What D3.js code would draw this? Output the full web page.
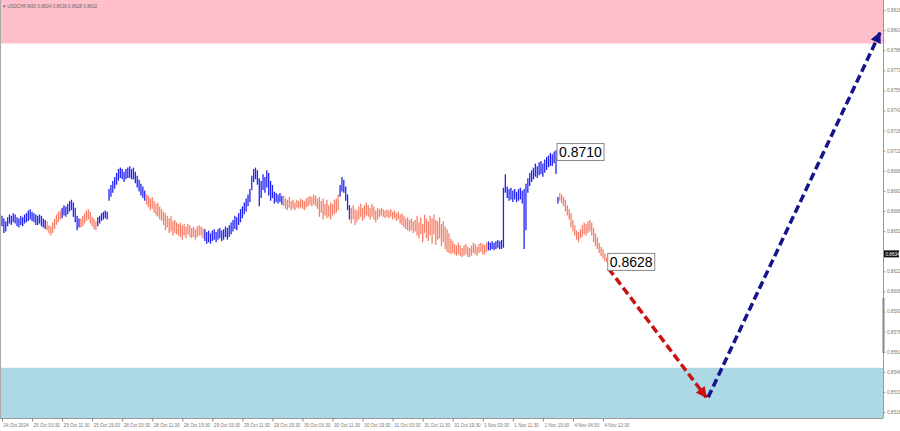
<!DOCTYPE html>
<html><head><meta charset="utf-8">
<script src="https://cdn.jsdelivr.net/npm/d3@7"></script>
<style>html,body{margin:0;padding:0;background:#fff;overflow:hidden}</style>
</head><body>
<svg id="c" width="900" height="431"></svg>
<script>
const symbolTitle = "USDCHF,M30  0.8634 0.8636 0.8628 0.8632";

const highs = [
0.8662,0.8660,0.8658,0.8661,0.8663,0.8662,0.8664,0.8663,0.8661,0.8660,
0.8662,0.8661,0.8663,0.8664,0.8666,0.8667,0.8665,0.8664,0.8663,0.8662,
0.8663,0.8662,0.8660,0.8659,0.8658,0.8655,0.8654,0.8657,0.8660,0.8663,
0.8665,0.8666,0.8668,0.8670,0.8669,0.8671,0.8673,0.8674,0.8672,0.8668,
0.8662,0.8660,0.8660,0.8662,0.8664,0.8666,0.8667,0.8665,0.8661,0.8660,
0.8658,0.8661,0.8662,0.8664,0.8665,0.8666,0.8665,0.8682,0.8685,0.8688,
0.8691,0.8694,0.8697,0.8698,0.8697,0.8695,0.8697,0.8698,0.8699,0.8697,
0.8698,0.8695,0.8692,0.8689,0.8686,0.8684,0.8681,0.8678,0.8677,0.8675,
0.8676,0.8673,0.8671,0.8672,0.8669,0.8667,0.8665,0.8664,0.8662,0.8660,
0.8662,0.8658,0.8659,0.8657,0.8656,0.8657,0.8655,0.8656,0.8654,0.8656,
0.8655,0.8653,0.8654,0.8652,0.8654,0.8655,0.8654,0.8653,0.8652,0.8650,
0.8651,0.8649,0.8651,0.8652,0.8650,0.8652,0.8653,0.8651,0.8652,0.8654,
0.8653,0.8655,0.8657,0.8659,0.8662,0.8661,0.8664,0.8667,0.8669,0.8672,
0.8675,0.8678,0.8682,0.8692,0.8697,0.8698,0.8696,0.8690,0.8688,0.8693,
0.8691,0.8696,0.8694,0.8688,0.8685,0.8680,0.8679,0.8678,0.8679,0.8677,
0.8677,0.8675,0.8674,0.8676,0.8673,0.8674,0.8672,0.8674,0.8673,0.8675,
0.8674,0.8673,0.8675,0.8676,0.8677,0.8676,0.8678,0.8677,0.8675,0.8676,
0.8673,0.8675,0.8671,0.8674,0.8670,0.8672,0.8671,0.8674,0.8675,0.8678,
0.8685,0.8691,0.8689,0.8684,0.8678,0.8670,0.8668,0.8670,0.8667,0.8666,
0.8669,0.8671,0.8668,0.8670,0.8672,0.8670,0.8668,0.8671,0.8669,0.8666,
0.8668,0.8667,0.8668,0.8667,0.8666,0.8667,0.8666,0.8667,0.8665,0.8666,
0.8664,0.8665,0.8663,0.8664,0.8662,0.8660,0.8661,0.8659,0.8660,0.8658,
0.8659,0.8662,0.8657,0.8661,0.8656,0.8663,0.8660,0.8658,0.8662,0.8660,
0.8663,0.8659,0.8658,0.8661,0.8656,0.8658,0.8654,0.8652,0.8649,0.8645,
0.8643,0.8641,0.8640,0.8642,0.8640,0.8638,0.8640,0.8641,0.8639,0.8638,
0.8640,0.8642,0.8641,0.8639,0.8641,0.8642,0.8641,0.8640,0.8642,0.8643,
0.8642,0.8643,0.8642,0.8643,0.8644,0.8643,0.8644,0.8683,0.8693,0.8684,
0.8682,0.8683,0.8681,0.8682,0.8680,0.8682,0.8683,0.8681,0.8682,0.8686,
0.8690,0.8694,0.8696,0.8698,0.8701,0.8699,0.8702,0.8703,0.8701,0.8704,
0.8706,0.8707,0.8709,0.8708,0.8710,0.8711,0.8676,0.8679,0.8678,0.8676,
0.8674,0.8670,0.8667,0.8664,0.8659,0.8655,0.8651,0.8650,0.8652,0.8655,
0.8657,0.8656,0.8658,0.8659,0.8657,0.8653,0.8649,0.8646,0.8642,0.8639,
0.8637,0.8634,0.8631
];
const lows = [
0.8655,0.8650,0.8651,0.8655,0.8657,0.8656,0.8658,0.8657,0.8655,0.8654,
0.8656,0.8655,0.8657,0.8658,0.8659,0.8660,0.8659,0.8658,0.8656,0.8656,
0.8657,0.8655,0.8654,0.8653,0.8652,0.8650,0.8648,0.8650,0.8653,0.8656,
0.8658,0.8660,0.8661,0.8663,0.8662,0.8664,0.8666,0.8667,0.8662,0.8658,
0.8652,0.8654,0.8654,0.8655,0.8657,0.8659,0.8660,0.8657,0.8655,0.8653,
0.8652,0.8655,0.8657,0.8659,0.8660,0.8661,0.8660,0.8674,0.8677,0.8680,
0.8683,0.8686,0.8689,0.8691,0.8690,0.8688,0.8690,0.8691,0.8691,0.8690,
0.8690,0.8687,0.8684,0.8681,0.8678,0.8676,0.8674,0.8671,0.8669,0.8667,
0.8668,0.8665,0.8663,0.8662,0.8660,0.8659,0.8656,0.8652,0.8654,0.8650,
0.8651,0.8648,0.8650,0.8649,0.8648,0.8647,0.8645,0.8648,0.8646,0.8649,
0.8647,0.8646,0.8647,0.8645,0.8647,0.8648,0.8648,0.8646,0.8644,0.8642,
0.8643,0.8642,0.8644,0.8645,0.8643,0.8645,0.8646,0.8644,0.8645,0.8647,
0.8645,0.8647,0.8649,0.8651,0.8653,0.8652,0.8656,0.8658,0.8661,0.8664,
0.8666,0.8670,0.8673,0.8682,0.8688,0.8690,0.8686,0.8670,0.8676,0.8682,
0.8680,0.8684,0.8678,0.8674,0.8676,0.8672,0.8673,0.8672,0.8673,0.8671,
0.8670,0.8668,0.8667,0.8669,0.8667,0.8668,0.8667,0.8669,0.8668,0.8669,
0.8668,0.8667,0.8669,0.8670,0.8671,0.8670,0.8671,0.8670,0.8668,0.8662,
0.8665,0.8660,0.8663,0.8661,0.8662,0.8660,0.8663,0.8664,0.8665,0.8667,
0.8677,0.8681,0.8680,0.8674,0.8667,0.8660,0.8657,0.8660,0.8656,0.8658,
0.8660,0.8662,0.8659,0.8661,0.8663,0.8662,0.8660,0.8662,0.8660,0.8658,
0.8660,0.8662,0.8663,0.8662,0.8661,0.8662,0.8661,0.8662,0.8660,0.8661,
0.8659,0.8660,0.8657,0.8656,0.8654,0.8653,0.8652,0.8651,0.8652,0.8650,
0.8651,0.8648,0.8646,0.8649,0.8643,0.8650,0.8646,0.8644,0.8648,0.8642,
0.8649,0.8641,0.8645,0.8646,0.8640,0.8643,0.8638,0.8636,0.8635,0.8634,
0.8635,0.8634,0.8633,0.8634,0.8633,0.8632,0.8633,0.8634,0.8632,0.8632,
0.8633,0.8635,0.8634,0.8633,0.8635,0.8636,0.8634,0.8634,0.8636,0.8637,
0.8637,0.8638,0.8637,0.8638,0.8639,0.8638,0.8638,0.8639,0.8680,0.8676,
0.8674,0.8675,0.8673,0.8675,0.8673,0.8674,0.8675,0.8672,0.8638,0.8652,
0.8680,0.8685,0.8688,0.8690,0.8692,0.8691,0.8693,0.8694,0.8692,0.8695,
0.8697,0.8699,0.8700,0.8700,0.8702,0.8694,0.8672,0.8674,0.8672,0.8670,
0.8666,0.8663,0.8660,0.8654,0.8651,0.8648,0.8645,0.8643,0.8646,0.8647,
0.8649,0.8648,0.8650,0.8651,0.8648,0.8643,0.8640,0.8638,0.8635,0.8633,
0.8631,0.8629,0.8628
];

// wave segments (first bar index of each wave) and their direction
const waveStarts = [0, 24, 32, 42, 51, 77, 108, 150, 180, 186, 259, 297];
const waveDirs   = ["up","down","up","down","up","down","up","down","up","down","up","down"];

const priceTicks = [0.8816,0.8801,0.8786,0.8771,0.8756,0.8741,0.8726,0.8711,0.8696,0.8681,0.8666,
                    0.8651,0.8621,0.8606,0.8591,0.8576,0.8561,0.8546,0.8531,0.8516];
const timeLabels = ["24 Oct 2024","25 Oct 03:30","25 Oct 11:30","25 Oct 19:30","28 Oct 03:30","28 Oct 11:30",
  "28 Oct 19:30","29 Oct 03:30","29 Oct 11:30","29 Oct 19:30","30 Oct 03:30","30 Oct 11:30","30 Oct 19:30",
  "31 Oct 03:30","31 Oct 11:30","31 Oct 19:30","1 Nov 03:30","1 Nov 11:30","1 Nov 19:30","4 Nov 04:30","4 Nov 12:30"];
const barsPerLabel = 16;

const sellZone = [0.8791, 0.8840];
const buyZone = [0.8500, 0.8549];
const markBars = [295, 322];
const markValues = [0.8710, 0.8628];
const currentPrice = 0.8634;
const forecastDown = [[323, 0.8623], [375, 0.8527]];
const forecastUp = [[376, 0.8527], [467.5, 0.8799]];

// ---------- drawing ----------
const plotR = 883, plotB = 418;
const svg = d3.select("#c");
const x = d3.scaleLinear().domain([0, 469]).range([2, 882.8]);
const y = d3.scaleLinear().domain([0.8516, 0.8816]).range([412, 10]);
const colorOf = {up: "#2323f2", down: "#f7806a"};

svg.append("defs").append("clipPath").attr("id","plot")
  .append("rect").attr("x",0).attr("y",0).attr("width",plotR).attr("height",plotB);
const g = svg.append("g").attr("clip-path","url(#plot)");

// zones
g.append("rect").attr("x",0).attr("width",plotR)
  .attr("y", y(sellZone[1])).attr("height", y(sellZone[0]) - y(sellZone[1])).attr("fill","#ffc0cb");
g.append("rect").attr("x",0).attr("width",plotR)
  .attr("y", y(buyZone[1])).attr("height", y(buyZone[0]) - y(buyZone[1])).attr("fill","#add8e6");

// bars
const waveOf = i => { let k = 0; for (let j = 0; j < waveStarts.length; j++) if (i >= waveStarts[j]) k = j; return waveDirs[k]; };
g.append("g").selectAll("line").data(highs.map((h,i)=>({i,h,l:lows[i]}))).join("line")
  .attr("x1", d => x(d.i)).attr("x2", d => x(d.i))
  .attr("y1", d => y(d.l) + 0.5).attr("y2", d => y(d.h) - 0.5)
  .attr("stroke", d => colorOf[waveOf(d.i)]).attr("stroke-width", 1.3);

// forecast arrows
const defs = svg.select("defs");
function marker(id, col){
  defs.append("marker").attr("id",id).attr("viewBox","0 0 10 10").attr("refX",9).attr("refY",5)
    .attr("markerWidth",13).attr("markerHeight",11).attr("markerUnits","userSpaceOnUse").attr("orient","auto")
    .append("path").attr("d","M0,0 L10,5 L0,10 Z").attr("fill",col);
}
marker("ah-red","#cc1111"); marker("ah-blue","#14148c");
function arrow(pts, col, mk){
  g.append("line").attr("x1",x(pts[0][0])).attr("y1",y(pts[0][1]))
    .attr("x2",x(pts[1][0])).attr("y2",y(pts[1][1]))
    .attr("stroke",col).attr("stroke-width",3.5).attr("stroke-dasharray","8,4")
    .attr("marker-end",`url(#${mk})`);
}
arrow(forecastDown, "#cc1111", "ah-red");
arrow(forecastUp, "#14148c", "ah-blue");

// price labels
const ff = "'Liberation Sans', Arial, sans-serif";
markBars.forEach((b,k)=>{
  const lx = x(b) + 1, ly = y(markValues[k]);
  const t = svg.append("text").attr("x", lx + 2).attr("y", ly + 5).attr("font-family", ff)
    .attr("font-size", 14).attr("fill","#000").text(markValues[k].toFixed(4));
  const bb = t.node().getBBox();
  svg.insert("rect", "text").attr("x", lx).attr("y", ly - 8.5).attr("width", bb.width + 4).attr("height", 17)
    .attr("fill","#fff").attr("stroke","#888").attr("stroke-width",1);
});

// axes frame
svg.append("line").attr("x1",0.5).attr("x2",0.5).attr("y1",0).attr("y2",plotB).attr("stroke","#aaa");
svg.append("line").attr("x1",plotR+0.5).attr("x2",plotR+0.5).attr("y1",0).attr("y2",plotB).attr("stroke","#999");
svg.append("line").attr("x1",0).attr("x2",plotR).attr("y1",plotB+0.5).attr("y2",plotB+0.5).attr("stroke","#999");
svg.append("line").attr("x1",plotR+0.5).attr("x2",plotR+0.5).attr("y1",298).attr("y2",353).attr("stroke","#888").attr("stroke-width",2);

// right axis
const ay = svg.append("g").attr("transform",`translate(${plotR+0.5},0)`)
  .call(d3.axisRight(y).tickValues(priceTicks).tickFormat(d3.format(".4f")).tickSize(2).tickPadding(1.5));
ay.select(".domain").remove();
ay.selectAll("line").attr("stroke","#999");
ay.selectAll("text").attr("font-family",ff).attr("font-size",4.6).attr("fill","#777");

// current price marker
const cpY = y(currentPrice);
svg.append("rect").attr("x",plotR+1).attr("y",cpY-3.5).attr("width",15).attr("height",7).attr("fill","#111");
svg.append("text").attr("x",plotR+2.5).attr("y",cpY+1.7).attr("font-family",ff).attr("font-size",4.6)
  .attr("fill","#fff").text(currentPrice.toFixed(4));

// bottom axis
const tIdx = timeLabels.map((_,i)=>i*barsPerLabel);
const ax = svg.append("g").attr("transform",`translate(0,${plotB+0.5})`)
  .call(d3.axisBottom(x).tickValues(tIdx).tickFormat((d,i)=>timeLabels[i]).tickSize(3).tickPadding(2));
ax.select(".domain").remove();
ax.selectAll("line").attr("stroke","#888");
ax.selectAll("text").attr("text-anchor","start").attr("dx",1).attr("font-family",ff)
  .attr("font-size",4.6).attr("fill","#777");

// title
svg.append("text").attr("x",3).attr("y",8).attr("font-family",ff).attr("font-size",4.6).attr("fill","#666")
  .text("\u25BE " + symbolTitle);
</script>
</body></html>
